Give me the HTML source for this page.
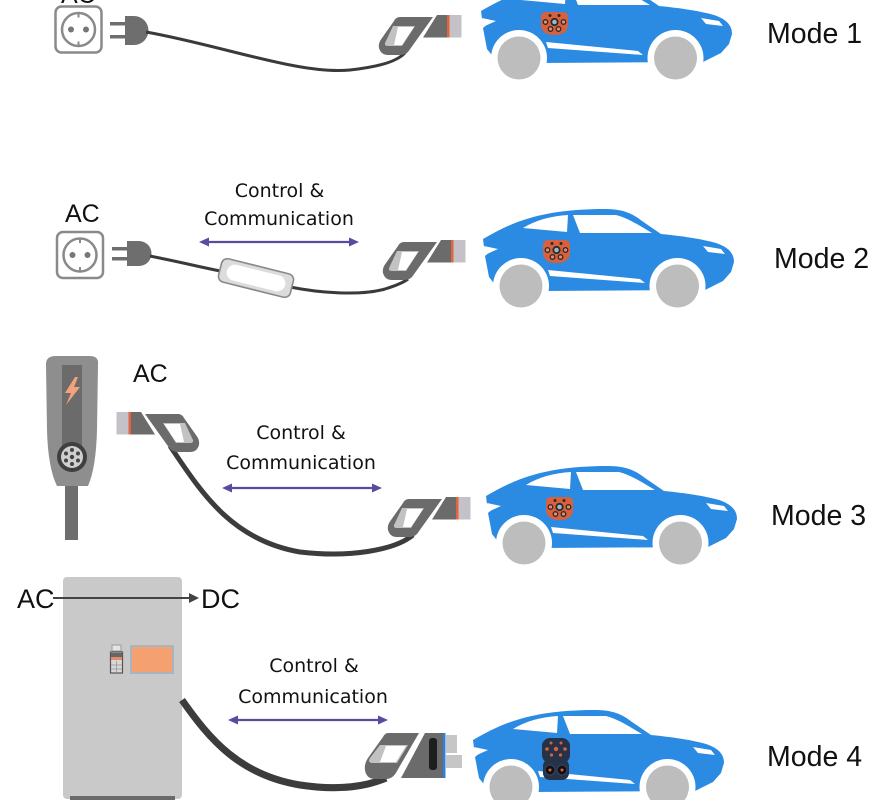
<!DOCTYPE html>
<html><head><meta charset="utf-8"><style>
html,body{margin:0;padding:0;background:#fff;}
svg{display:block;}
</style></head><body>
<svg width="890" height="800" viewBox="0 0 890 800" xmlns="http://www.w3.org/2000/svg">
<defs>
  <g id="carbody">
    <path fill="#2b8ae2" d="M483,239 C497,231 512,223 530,218 C550,212 575,209 605,209 C622,209 632,213 642,221 L661,234 C682,236 702,239 716,243 C728,247 734,253 734,262 L731,272 L723,281 L705,290 L540,291 L496,286 L489,277 L485,256 L491,251 L484,247 Z"/>
    <path fill="#fff" d="M484,246 L498,249 L487,254 Z"/>
    <path fill="#fff" d="M523,228 C536,220 551,216 568,215 L567,232 Z"/>
    <path fill="#fff" d="M573,215 L616,215 C628,218 640,226 652,233 L580,233 Z"/>
    <path fill="#fff" d="M548,270 L640,279 L645,283 L550,276 Z"/>
    <path fill="#fff" d="M703,246 L721,249 L725,254 L708,252 Z"/>
    <circle cx="521" cy="286" r="28" fill="#fff"/>
    <circle cx="677.5" cy="286" r="28" fill="#fff"/>
    <circle cx="521" cy="286" r="21.5" fill="#bdbdbd"/>
    <circle cx="677.5" cy="286" r="21.5" fill="#bdbdbd"/>
  </g>
  <g id="acport">
    <path fill="#d9603d" d="M543,245 Q543,240 549,240 L564,240 Q570,240 570,245 L570,252 Q570,263 556.5,263 Q543,263 543,252 Z"/>
    <circle cx="552" cy="243.5" r="1.5" fill="#2a2a2a"/>
    <circle cx="561" cy="243.5" r="1.5" fill="#2a2a2a"/>
    <circle cx="547.5" cy="250" r="2.3" fill="#e98a6a" stroke="#2a2a2a" stroke-width="1.3"/>
    <circle cx="556.5" cy="250" r="3.2" fill="#9fb8c8" stroke="#2a2a2a" stroke-width="1.8"/>
    <circle cx="565.5" cy="250" r="2.3" fill="#e98a6a" stroke="#2a2a2a" stroke-width="1.3"/>
    <circle cx="552.5" cy="257" r="2.3" fill="#e98a6a" stroke="#2a2a2a" stroke-width="1.3"/>
    <circle cx="560.5" cy="257" r="2.3" fill="#e98a6a" stroke="#2a2a2a" stroke-width="1.3"/>
  </g>
  <g id="conn">
    <path fill="#6b6b6b" d="M-48,-9 L-15,-9 L-40,26 Q-43,29 -48,29 L-60,29 Q-67,29 -69,22 Q-70,17 -66,12 L-54,-5 Q-52,-9 -48,-9 Z"/>
    <path fill="#c2c2c2" d="M-55,0 L-33,0 L-46,20 L-60,20 Q-65,20 -62,15 Z"/>
    <path fill="#fff" d="M-50,1 L-34,1 L-46,19 L-54,19 Z"/>
    <path fill="#6b6b6b" d="M-11,-11 L0,-11 L0,11.5 L-25,11.5 Z"/>
    <rect x="-1" y="-11" width="2.5" height="22.5" fill="#e3643c"/>
    <rect x="1.5" y="-11" width="12" height="22.5" fill="#c4c2c8"/>
  </g>
  <g id="socket">
    <rect x="0" y="0" width="46" height="46" rx="6" fill="#fff" stroke="#8a8a8a" stroke-width="2.5"/>
    <circle cx="23" cy="23" r="16.5" fill="#fff" stroke="#8a8a8a" stroke-width="2.5"/>
    <circle cx="15.5" cy="23" r="3" fill="#777"/>
    <circle cx="30.5" cy="23" r="3" fill="#777"/>
    <line x1="23" y1="6.5" x2="23" y2="11" stroke="#8a8a8a" stroke-width="2"/>
    <line x1="23" y1="35" x2="23" y2="39.5" stroke="#8a8a8a" stroke-width="2"/>
  </g>
  <g id="biarrow">
    <line x1="8" y1="0" x2="152" y2="0" stroke="#5a4aa0" stroke-width="2.2"/>
    <polygon points="0,0 10,-4.5 10,4.5" fill="#5a4aa0"/>
    <polygon points="160,0 150,-4.5 150,4.5" fill="#5a4aa0"/>
  </g>
</defs>

<!-- ================= MODE 1 ================= -->
<text x="61" y="3" font-family="Liberation Sans, sans-serif" font-size="25" fill="#111">AC</text>
<use href="#socket" transform="translate(55.5,6.5)"/>
<rect x="110" y="22" width="15" height="3.5" fill="#6e6e6e"/>
<rect x="110" y="35" width="15" height="3.5" fill="#6e6e6e"/>
<path d="M125,16 H134 A14.5,14.5 0 0 1 134,45 H125 Z" fill="#6e6e6e"/>
<path d="M146,32 C220,45 300,75 350,70 C385,66 398,60 405,53" fill="none" stroke="#3a3a3a" stroke-width="3"/>
<use href="#conn" transform="translate(448,26)"/>
<g transform="translate(-2,-228)">
  <use href="#carbody"/>
  <use href="#acport"/>
</g>
<text x="767" y="43" font-family="Liberation Sans, sans-serif" font-size="28.5" fill="#111">Mode 1</text>

<!-- ================= MODE 2 ================= -->
<text x="65" y="222" font-family="Liberation Sans, sans-serif" font-size="25" fill="#111">AC</text>
<use href="#socket" transform="translate(57,232)"/>
<rect x="112" y="247" width="15" height="3.5" fill="#6e6e6e"/>
<rect x="112" y="257" width="15" height="3.5" fill="#6e6e6e"/>
<path d="M127,241 H139 A12.5,12.5 0 0 1 139,266 H127 Z" fill="#6e6e6e"/>
<path d="M150,256 C180,262 200,267 225,272" fill="none" stroke="#3a3a3a" stroke-width="3"/>
<path d="M290,287 C320,293 360,296 385,289 C398,285 404,282 408,279" fill="none" stroke="#3a3a3a" stroke-width="3"/>
<g transform="rotate(14 256 278)">
  <rect x="219" y="266" width="74" height="24" rx="6" fill="#dcdcdc" stroke="#8a8a8a" stroke-width="1.6"/>
  <rect x="226" y="270" width="60" height="16" rx="8" fill="#fff"/>
</g>
<text x="279.5" y="197" text-anchor="middle" font-family="DejaVu Sans, sans-serif" font-size="19" fill="#111">Control &amp;</text>
<text x="279" y="225" text-anchor="middle" font-family="DejaVu Sans, sans-serif" font-size="19" fill="#111">Communication</text>
<use href="#biarrow" transform="translate(199,242)"/>
<use href="#conn" transform="translate(452,251)"/>
<use href="#carbody"/>
<use href="#acport"/>
<text x="774" y="268" font-family="Liberation Sans, sans-serif" font-size="28.5" fill="#111">Mode 2</text>

<!-- ================= MODE 3 ================= -->
<rect x="65" y="480" width="13" height="60" fill="#6e6e6e"/>
<path d="M46,364 Q46,356 56,356 L89,356 Q99,356 98,364 L97,430 Q96,468 88,486 L57,486 Q48,468 47,430 Z" fill="#8e8e8e"/>
<rect x="62" y="365" width="20" height="85" fill="#6b6b6b"/>
<path d="M75,377 L65,393 L71,393 L66,405 L80,387 L74,387 L78,377 Z" fill="#f4a27a"/>
<circle cx="72" cy="457" r="15" fill="#3f3f3f"/>
<circle cx="72" cy="457" r="11" fill="#cfcfcf"/>
<circle cx="72" cy="457" r="2.2" fill="#444"/>
<circle cx="72" cy="450" r="2" fill="#444"/>
<circle cx="72" cy="464" r="2" fill="#444"/>
<circle cx="66" cy="453.5" r="2" fill="#444"/>
<circle cx="78" cy="453.5" r="2" fill="#444"/>
<circle cx="66" cy="460.5" r="2" fill="#444"/>
<circle cx="78" cy="460.5" r="2" fill="#444"/>
<text x="133" y="382" font-family="Liberation Sans, sans-serif" font-size="25" fill="#111">AC</text>
<path d="M170,446 C200,490 230,540 300,552 C350,558 395,550 413,535" fill="none" stroke="#3c3c3c" stroke-width="5"/>
<use href="#conn" transform="translate(130,423) scale(-1,1)"/>
<use href="#conn" transform="translate(457,508)"/>
<text x="301" y="439" text-anchor="middle" font-family="DejaVu Sans, sans-serif" font-size="19" fill="#111">Control &amp;</text>
<text x="301" y="469" text-anchor="middle" font-family="DejaVu Sans, sans-serif" font-size="19" fill="#111">Communication</text>
<use href="#biarrow" transform="translate(222,488)"/>
<g transform="translate(3,257)">
  <use href="#carbody"/>
  <use href="#acport"/>
</g>
<text x="771" y="525" font-family="Liberation Sans, sans-serif" font-size="28.5" fill="#111">Mode 3</text>

<!-- ================= MODE 4 ================= -->
<rect x="63" y="577" width="119" height="222" rx="4" fill="#c9c9c9"/>
<rect x="70" y="796" width="105" height="4" fill="#6a6a6a"/>
<rect x="112" y="645" width="9" height="6" fill="#e4e4e4" stroke="#9a9a9a" stroke-width="1"/>
<rect x="110.5" y="652" width="12" height="21" fill="#d8d8d8" stroke="#555" stroke-width="1.2"/>
<rect x="111" y="657" width="11" height="3" fill="#e88a6a"/>
<rect x="111" y="653" width="11" height="4" fill="#666"/>
<line x1="111" y1="665" x2="122" y2="665" stroke="#999" stroke-width="0.8"/>
<line x1="111" y1="669" x2="122" y2="669" stroke="#999" stroke-width="0.8"/>
<line x1="116.5" y1="661" x2="116.5" y2="673" stroke="#999" stroke-width="0.8"/>
<rect x="131" y="646" width="42" height="27" fill="#f5a070" stroke="#a8b4c0" stroke-width="2"/>
<text x="17" y="608" font-family="Liberation Sans, sans-serif" font-size="27" fill="#111">AC</text>
<line x1="53" y1="598" x2="192" y2="598" stroke="#444" stroke-width="2"/>
<polygon points="199,598 189,593 189,603" fill="#444"/>
<text x="201" y="608" font-family="Liberation Sans, sans-serif" font-size="27" fill="#111">DC</text>
<path d="M182,700 C210,740 240,775 300,785 C340,791 368,786 386,778" fill="none" stroke="#3c3c3c" stroke-width="7"/>
<text x="314" y="672" text-anchor="middle" font-family="DejaVu Sans, sans-serif" font-size="19" fill="#111">Control &amp;</text>
<text x="313" y="703" text-anchor="middle" font-family="DejaVu Sans, sans-serif" font-size="19" fill="#111">Communication</text>
<use href="#biarrow" transform="translate(228,720)"/>
<!-- DC connector -->
<path fill="#6b6b6b" d="M388,733 L419,733 L397,771 Q393,779 386,779 L374,779 Q366,778 365,770 Q364,764 368,758 L383,737 Q385,733 388,733 Z"/>
<path fill="#c2c2c2" d="M380,745 L408,745 L397,763 L373,763 Q367,763 370,758 Z"/>
<path fill="#fff" d="M386,746 L406,746 L396,762 L380,762 Z"/>
<path fill="#6b6b6b" d="M425,733 L443,733 L443,778 L401,778 Z"/>
<rect x="429" y="738" width="8" height="32" rx="3" fill="#1e1e1e"/>
<rect x="443" y="733" width="2.5" height="45" fill="#2f7fe0"/>
<rect x="446" y="735" width="11" height="18" fill="#c6c6c6"/>
<rect x="446" y="755" width="16" height="13" fill="#c6c6c6"/>
<g transform="translate(-10,501)">
  <use href="#carbody"/>
</g>
<!-- DC port -->
<rect x="542" y="738" width="28" height="25" rx="8" fill="#263247"/>
<rect x="543" y="759" width="26" height="21" rx="7" fill="#263247"/>
<circle cx="551" cy="743" r="1.5" fill="#d9603d"/>
<circle cx="561" cy="743" r="1.5" fill="#d9603d"/>
<circle cx="547" cy="749" r="1.8" fill="#d9603d"/>
<circle cx="556" cy="749" r="2.2" fill="#d9603d"/>
<circle cx="565" cy="749" r="1.8" fill="#d9603d"/>
<circle cx="551.5" cy="755" r="1.6" fill="#d9603d"/>
<circle cx="560.5" cy="755" r="1.6" fill="#d9603d"/>
<circle cx="550" cy="770" r="5" fill="#111" stroke="#3a4660" stroke-width="1"/>
<circle cx="562" cy="770" r="5" fill="#111" stroke="#3a4660" stroke-width="1"/>
<circle cx="550" cy="770" r="1.5" fill="#d9603d"/>
<circle cx="562" cy="770" r="1.5" fill="#d9603d"/>
<text x="767" y="766" font-family="Liberation Sans, sans-serif" font-size="28.5" fill="#111">Mode 4</text>
</svg>
</body></html>
